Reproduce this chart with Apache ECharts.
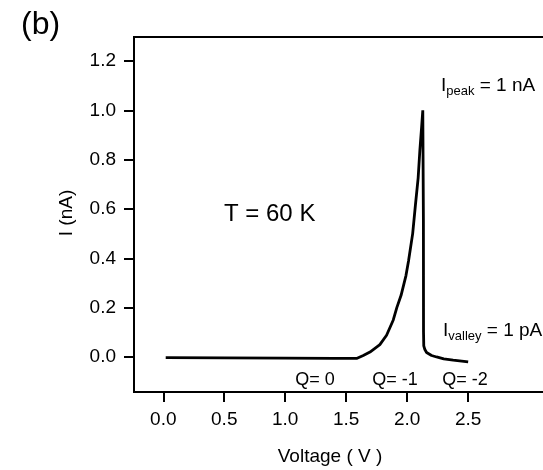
<!DOCTYPE html>
<html>
<head>
<meta charset="utf-8">
<script src="https://cdn.jsdelivr.net/npm/echarts@6/dist/echarts.min.js"></script>
<style>
  html, body { margin: 0; padding: 0; background: #fff; }
  #chart { width: 543px; height: 470px; }
</style>
</head>
<body>
<div id="chart"></div>
<script>
// I-V characteristic at 60 K: bias voltage (V) and current (nA)
const voltage = [0.02, 0.5, 1.0, 1.4, 1.585, 1.64, 1.695, 1.776, 1.831, 1.886, 1.915, 1.95,
                 1.99, 2.011, 2.045, 2.067, 2.09, 2.104, 2.118, 2.128, 2.133, 2.134, 2.136,
                 2.145, 2.159, 2.2, 2.241, 2.3, 2.377, 2.5];
const current = [-0.003, -0.004, -0.005, -0.006, -0.006, 0.006, 0.02, 0.05, 0.088, 0.15, 0.2, 0.25,
                 0.33, 0.389, 0.5, 0.613, 0.726, 0.838, 0.93, 1.0, 0.55, 0.1, 0.045,
                 0.03, 0.018, 0.006, 0.0, -0.008, -0.013, -0.02];

// Tick positions
const xTicks = [0, 0.5, 1.0, 1.5, 2.0, 2.5];
const yTicks = [0, 0.2, 0.4, 0.6, 0.8, 1.0, 1.2];

const FONT = '"Liberation Sans", Arial, Helvetica, sans-serif';

const chart = echarts.init(document.getElementById('chart'), null, { renderer: 'canvas' });

const points = voltage.map((v, i) => [v, current[i]]);

const subRich = {
  m: { fontFamily: FONT, fontSize: 19, color: '#000', lineHeight: 22, verticalAlign: 'top' },
  s: { fontFamily: FONT, fontSize: 13, color: '#000', lineHeight: 13, verticalAlign: 'bottom' }
};

function plainText(text, x, y, size, align, vAlign, extra) {
  return Object.assign({
    type: 'text',
    x: x, y: y,
    style: {
      text: text,
      fontFamily: FONT,
      fontSize: size,
      fill: '#000',
      align: align,
      verticalAlign: vAlign
    }
  }, extra || {});
}

chart.setOption({
  backgroundColor: '#fff',
  animation: false,
  // plot frame runs past the right edge of the canvas
  grid: {
    left: 134, top: 37, width: 461, bottom: 78,
    outerBoundsMode: 'none',
    containLabel: false,
    show: true,
    borderColor: '#000',
    borderWidth: 2,
    backgroundColor: 'transparent'
  },
  xAxis: {
    type: 'value',
    min: -0.24,
    max: 3.54,
    splitLine: { show: false },
    axisLine: { show: true, onZero: false, lineStyle: { color: '#000', width: 2 } },
    axisTick: {
      show: true, inside: false, length: 10, customValues: xTicks,
      lineStyle: { color: '#000', width: 2 }
    },
    axisLabel: {
      customValues: xTicks,
      formatter: v => v.toFixed(1),
      color: '#000', fontFamily: FONT, fontSize: 19, margin: 18
    }
  },
  yAxis: {
    type: 'value',
    min: -0.142,
    max: 1.297,
    splitLine: { show: false },
    axisLine: { show: true, onZero: false, lineStyle: { color: '#000', width: 2 } },
    axisTick: {
      show: true, inside: false, length: 10, customValues: yTicks,
      lineStyle: { color: '#000', width: 2 }
    },
    axisLabel: {
      customValues: yTicks,
      formatter: v => v.toFixed(1),
      color: '#000', fontFamily: FONT, fontSize: 19, margin: 18
    }
  },
  series: [{
    type: 'line',
    data: points,
    showSymbol: false,
    smooth: false,
    lineStyle: { color: '#000', width: 2.8, join: 'bevel' },
    clip: false
  }],
  graphic: [
    plainText('(b)', 21, 25, 32, 'left', 'middle'),
    plainText('T = 60 K', 224, 214, 24, 'left', 'middle'),
    plainText('Voltage ( V )', 330, 457, 19, 'center', 'middle'),
    plainText('I (nA)', 67, 213, 19, 'center', 'middle', { rotation: Math.PI / 2 }),
    plainText('Q= 0', 315, 380, 18, 'center', 'middle'),
    plainText('Q= -1', 395, 380, 18, 'center', 'middle'),
    plainText('Q= -2', 465, 380, 18, 'center', 'middle'),
    {
      type: 'text', x: 441, y: 76,
      style: { text: '{m|I}{s|peak}{m| = 1 nA}', rich: subRich, align: 'left', verticalAlign: 'top' }
    },
    {
      type: 'text', x: 443, y: 321,
      style: { text: '{m|I}{s|valley}{m| = 1 pA}', rich: subRich, align: 'left', verticalAlign: 'top' }
    }
  ]
});
</script>
</body>
</html>
